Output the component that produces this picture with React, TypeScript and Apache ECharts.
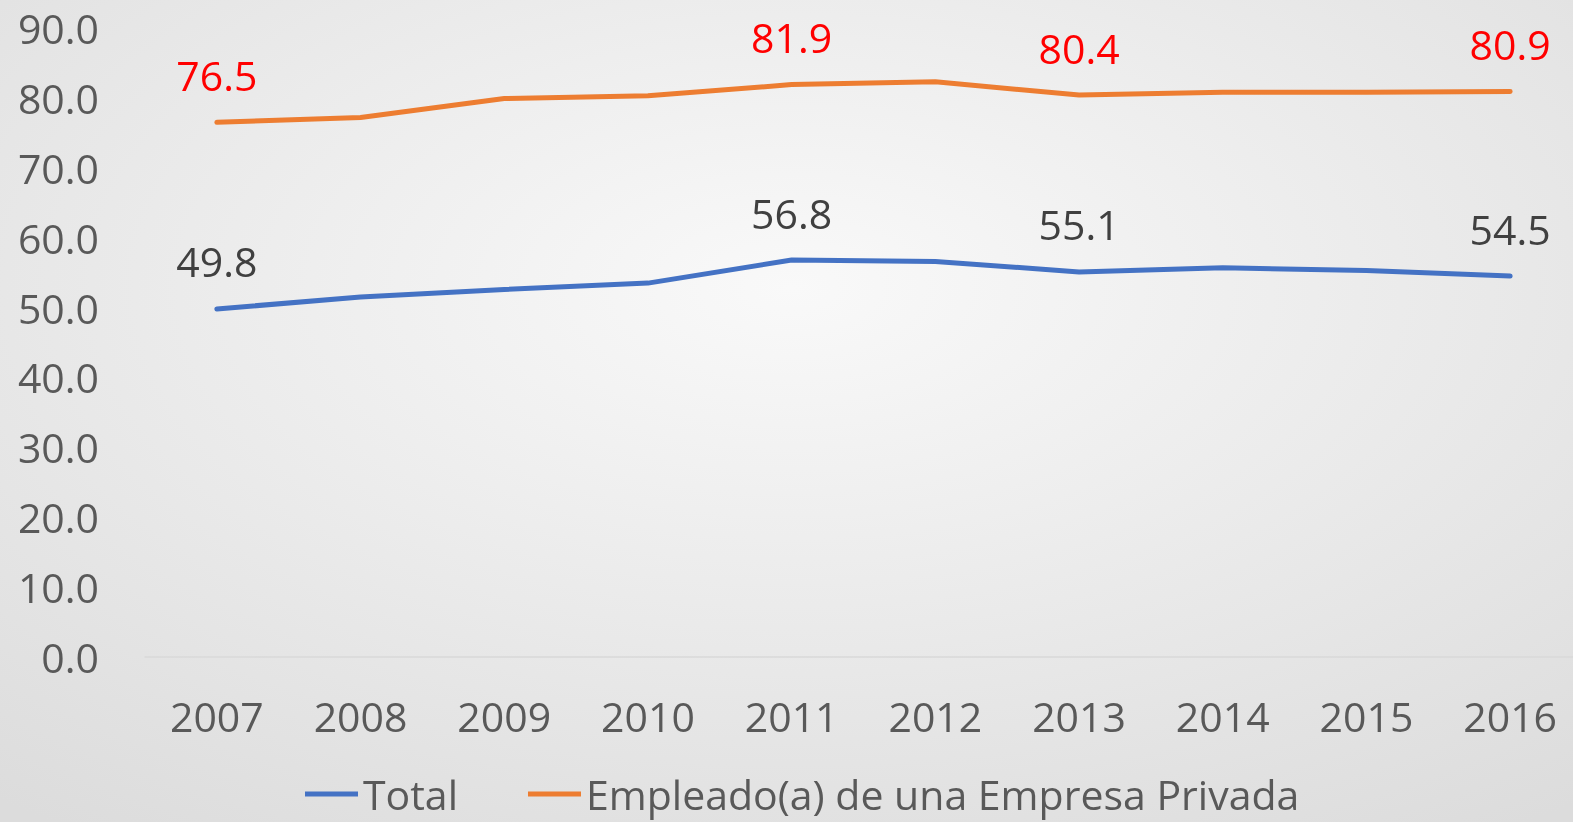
import React, { useEffect, useRef } from "react";
import * as echarts from "echarts";

const years = ["2007", "2008", "2009", "2010", "2011", "2012", "2013", "2014", "2015", "2016"];
const totalValues = [49.8, 51.5, 52.6, 53.5, 56.8, 56.6, 55.1, 55.7, 55.3, 54.5];
const privadaValues = [76.5, 77.2, 79.9, 80.3, 81.9, 82.3, 80.4, 80.8, 80.8, 80.9];
const labeledIndices = [0, 4, 6, 9];
const seriesNames = ["Total", "Empleado(a) de una Empresa Privada"];

const FONT = "'Open Sans', 'Noto Sans', sans-serif";

export default function App() {
  const ref = useRef<HTMLDivElement>(null);

  useEffect(() => {
    if (!ref.current) return;
    const chart = echarts.init(ref.current, null, { renderer: "svg" });
    const labelFormatter = (p: any) =>
      labeledIndices.includes(p.dataIndex) ? Number(p.value).toFixed(1) : "";
    chart.setOption({
      animation: false,
      backgroundColor: new echarts.graphic.RadialGradient(0.5, 0.35, 0.8, [
        { offset: 0, color: "#f9f9f9" },
        { offset: 1, color: "#dcdcdc" },
      ]),
      textStyle: { fontFamily: FONT },
      grid: { left: 145, right: 0, top: 28, bottom: 165, containLabel: false },
      legend: {
        left: 305,
        bottom: 0,
        padding: 0,
        icon: "rect",
        itemWidth: 53,
        itemHeight: 5,
        itemGap: 70,
        textStyle: {
          fontFamily: FONT,
          fontSize: 41,
          lineHeight: 56,
          color: "#595959",
          padding: [0, 0, 0, 0],
        },
        data: seriesNames,
      },
      xAxis: {
        type: "category",
        data: years,
        boundaryGap: true,
        axisLine: { show: true, lineStyle: { color: "#d9d9d9", width: 1.5 } },
        axisTick: { show: false },
        axisLabel: { fontFamily: FONT, fontSize: 41, color: "#595959", margin: 38 },
        splitLine: { show: false },
      },
      yAxis: {
        type: "value",
        min: 0,
        max: 90,
        interval: 10,
        axisLine: { show: false },
        axisTick: { show: false },
        splitLine: { show: false },
        axisLabel: {
          fontFamily: FONT,
          fontSize: 41,
          color: "#595959",
          margin: 46,
          formatter: (v: number) => v.toFixed(1),
        },
      },
      series: [
        {
          name: seriesNames[0],
          type: "line",
          data: totalValues,
          symbol: "circle",
          symbolSize: 0,
          showSymbol: true,
          lineStyle: { color: "#4472C4", width: 5, cap: "round", join: "round" },
          itemStyle: { color: "#4472C4" },
          label: {
            show: true,
            position: "top",
            distance: 27,
            formatter: labelFormatter,
            fontFamily: FONT,
            fontSize: 41,
            color: "#404040",
          },
        },
        {
          name: seriesNames[1],
          type: "line",
          data: privadaValues,
          symbol: "circle",
          symbolSize: 0,
          showSymbol: true,
          lineStyle: { color: "#ED7D31", width: 5, cap: "round", join: "round" },
          itemStyle: { color: "#ED7D31" },
          label: {
            show: true,
            position: "top",
            distance: 27,
            formatter: labelFormatter,
            fontFamily: FONT,
            fontSize: 41,
            color: "#FF0000",
          },
        },
      ],
    });
    return () => chart.dispose();
  }, []);

  return (
    <div style={{ position: "fixed", left: 0, top: 0, width: 1573, height: 822, overflow: "hidden" }}>
      <div ref={ref} style={{ position: "absolute", left: 0, top: 0, width: 1582, height: 822 }} />
    </div>
  );
}
